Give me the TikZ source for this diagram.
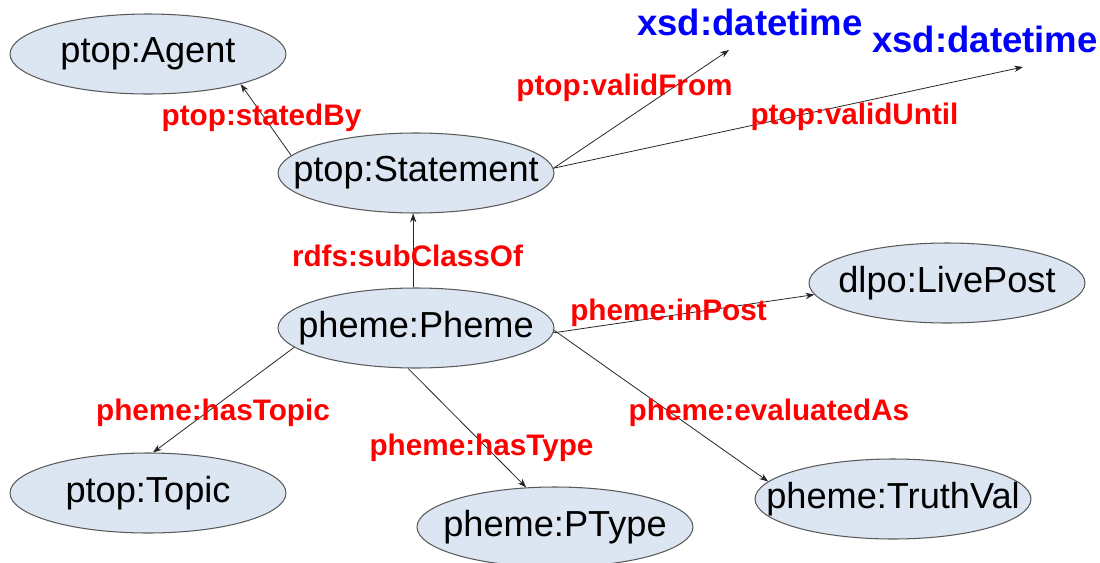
\documentclass[tikz,border=0pt]{standalone}
\usepackage{fontspec}
\setmainfont{Liberation Sans}
\usetikzlibrary{shapes.geometric,arrows.meta}
\definecolor{classfill}{HTML}{DCE6F2}
\definecolor{classline}{HTML}{5A5A5A}
\definecolor{proplabel}{HTML}{FF0000}
\definecolor{typelabel}{HTML}{0000FF}
\tikzset{
  cls/.style={ellipse, draw=classline, line width=0.6pt, fill=classfill,
    minimum width=5.52cm, minimum height=1.6cm, inner sep=0pt,
    label={[inner sep=0pt, font=\fontsize{20.6}{24}\selectfont]center:#1}},
  prop/.style={anchor=base, inner sep=0pt, text=proplabel,
    font=\fontsize{16.9}{20}\selectfont\bfseries},
  dtype/.style={anchor=base, inner sep=0pt, text=typelabel,
    font=\fontsize{20.8}{24}\selectfont\bfseries},
  rel/.style={draw=black!85, line width=0.45pt, -{Stealth[length=5pt,width=3.6pt]}}
}
\begin{document}
\begin{tikzpicture}[x=0.02cm, y=-0.02cm]
  \useasboundingbox (0,0) rectangle (1100,562);
  \fill[white] (0,0) rectangle (1100,562);

  % classes: fixed-size ellipses, name set as a centred label
  \node[cls={ptop:Agent}]     (ag) at (148,54)  {};
  \node[cls={ptop:Statement}] (st) at (416,173) {};
  \node[cls={pheme:Pheme}]    (ph) at (416,328) {};
  \node[cls={dlpo:LivePost}]  (lp) at (947,283) {};
  \node[cls={ptop:Topic}]     (tp) at (148,493) {};
  \node[cls={pheme:PType}]    (pt) at (555,527) {};
  \node[cls={pheme:TruthVal}] (tv) at (893,499) {};

  % literal types
  \node[dtype] (x1) at (750,35) {xsd:datetime};
  \node[dtype] (x2) at (985,52) {xsd:datetime};
  \coordinate (x1tip) at (729,50);
  \coordinate (x2tip) at (1023,67);

  % relations
  \draw[rel] (st.172) -- (ag.-18.6);
  \draw[rel] (st.2) -- (x1tip);
  \draw[rel] (st.2) -- (x2tip);
  \draw[rel] (ph.94) -- (st.-94);
  \draw[rel] (ph.-2.5) -- (lp.185);
  \draw[rel] (ph.189) -- (tp.83);
  \draw[rel] (ph.-101) -- (pt.126);
  \draw[rel] (ph.-1.5) -- (tv.172);

  % property labels
  \node[prop] (lstated) at (261.5,125) {ptop:statedBy};
  \node[prop] (lfrom)   at (624.5,95)  {ptop:validFrom};
  \node[prop] (luntil)  at (854.5,124) {ptop:validUntil};
  \node[prop] (lsub)    at (407.5,266) {rdfs:subClassOf};
  \node[prop] (lpost)   at (668.5,320) {pheme:inPost};
  \node[prop] (ltopic)  at (213,420)   {pheme:hasTopic};
  \node[prop] (ltype)   at (481.5,455) {pheme:hasType};
  \node[prop] (leval)   at (769,420)   {pheme:evaluatedAs};
\end{tikzpicture}
\end{document}
